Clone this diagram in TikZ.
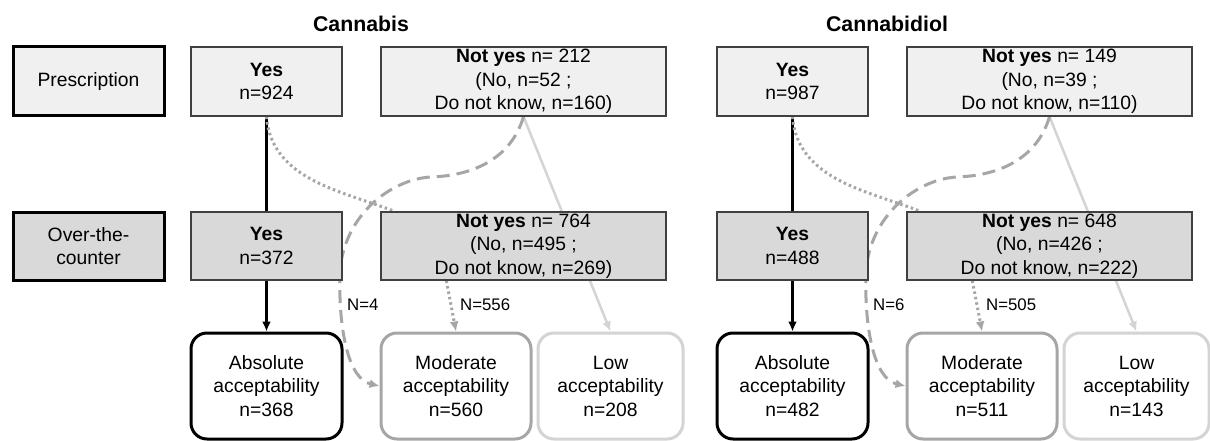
\documentclass[tikz,border=0pt]{standalone}
\usepackage{fontspec}
\setmainfont{Liberation Sans}
\usetikzlibrary{arrows.meta,calc}
\definecolor{boxA}{HTML}{F0F0F0}
\definecolor{boxB}{HTML}{D9D9D9}
\definecolor{edgeC}{HTML}{404040}
\definecolor{midG}{HTML}{A6A6A6}
\definecolor{lightG}{HTML}{D4D4D4}
\pgfdeclarelayer{bg}
\pgfsetlayers{bg,main}
\tikzset{
  base/.style={inner sep=0pt, align=center, text=black, font=\fontsize{19.3}{23.5}\selectfont},
  hdr/.style={base, draw=black, line width=3pt, minimum width=151pt},
  yesbox/.style={base, draw=edgeC, line width=1.3pt, minimum width=151pt},
  nybox/.style={base, draw=edgeC, line width=1.3pt, minimum width=285pt},
  endbox/.style={base, fill=white, line width=3pt, rounded corners=16pt, minimum height=106pt},
  absb/.style={endbox, draw=black, minimum width=151pt},
  modb/.style={endbox, draw=midG, minimum width=150pt},
  lowb/.style={endbox, draw=lightG, minimum width=145pt},
  ttl/.style={inner sep=0pt, font=\fontsize{21.3}{25}\selectfont\bfseries},
  lab/.style={inner sep=0pt, font=\fontsize{16.8}{20}\selectfont},
  blackline/.style={draw=black, line width=2.5pt},
  dotline/.style={draw=midG, line width=3pt, dash pattern=on 2.5pt off 3pt},
  dashline/.style={draw=midG, line width=3pt, dash pattern=on 13pt off 7pt},
  lightline/.style={draw=lightG, line width=2.5pt},
  tip/.style={-{Latex[length=10pt,width=9pt]}}
}
\begin{document}
\begin{tikzpicture}[x=1pt,y=-1pt]
\useasboundingbox (0,0) rectangle (1210,441);

% row labels
\node[hdr, fill=boxA, minimum height=69pt] (presc) at (88.5,81.5) {Prescription};
\node[hdr, fill=boxB, minimum height=68pt] (otc) at (88.5,246) {Over-the-\\counter};

% ---------- Cannabis ----------
\node[ttl] (t1) at (361,24) {Cannabis};
\node[yesbox, fill=boxA, minimum height=69pt] (yP1) at (266.5,81.5) {\textbf{Yes}\\n=924};
\node[nybox, fill=boxA, minimum height=69pt] (nP1) at (523.5,81.5) {\textbf{Not yes} n= 212\\(No, n=52 ;\\Do not know, n=160)};
\node[yesbox, fill=boxB, minimum height=68pt] (yO1) at (266.5,246) {\textbf{Yes}\\n=372};
\node[nybox, fill=boxB, minimum height=68pt] (nO1) at (523.5,246) {\textbf{Not yes} n= 764\\(No, n=495 ;\\Do not know, n=269)};
\node[absb] (a1) at (266.5,386) {Absolute\\acceptability\\n=368};
\node[modb] (m1) at (456,386) {Moderate\\acceptability\\n=560};
\node[lowb] (l1) at (610.5,386) {Low\\acceptability\\n=208};
\node[lab, anchor=west] (lb1) at (347,305) {N=4};
\node[lab, anchor=west] (lc1) at (460,305) {N=556};
\coordinate (w11) at (430,177);
\coordinate (w12) at (340,270);

% ---------- Cannabidiol ----------
\node[ttl] (t2) at (887,24) {Cannabidiol};
\node[yesbox, fill=boxA, minimum height=69pt] (yP2) at (792.5,81.5) {\textbf{Yes}\\n=987};
\node[nybox, fill=boxA, minimum height=69pt] (nP2) at (1049.5,81.5) {\textbf{Not yes} n= 149\\(No, n=39 ;\\Do not know, n=110)};
\node[yesbox, fill=boxB, minimum height=68pt] (yO2) at (792.5,246) {\textbf{Yes}\\n=488};
\node[nybox, fill=boxB, minimum height=68pt] (nO2) at (1049.5,246) {\textbf{Not yes} n= 648\\(No, n=426 ;\\Do not know, n=222)};
\node[absb] (a2) at (792.5,386) {Absolute\\acceptability\\n=482};
\node[modb] (m2) at (982,386) {Moderate\\acceptability\\n=511};
\node[lowb] (l2) at (1136.5,386) {Low\\acceptability\\n=143};
\node[lab, anchor=west] (lb2) at (873,305) {N=6};
\node[lab, anchor=west] (lc2) at (986,305) {N=505};
\coordinate (w21) at (956,177);
\coordinate (w22) at (866,270);

\begin{pgfonlayer}{bg}
\fill[white] (0,0) rectangle (1210,441);
% cannabis connectors
\draw[lightline, tip] (nP1.south) -- (l1.north);
\draw[blackline] (yP1) -- (yO1);
\draw[blackline, tip] (yO1) -- (a1);
\draw[dotline] (yP1.south) .. controls +(5,64) and +(-50,-20) .. ([xshift=14pt]nO1.north west);
\draw[dotline, tip] ([xshift=66pt]nO1.south west) -- (m1.north);
\draw[dashline, tip] (nP1.south) .. controls +(-13,44) and +(40,-1) .. (w11)
   .. controls +(-40,3) and +(5,-55) .. (w12)
   .. controls +(-2,60) and +(-31,-7) .. (m1.west);
% cannabidiol connectors
\draw[lightline, tip] (nP2.south) -- (l2.north);
\draw[blackline] (yP2) -- (yO2);
\draw[blackline, tip] (yO2) -- (a2);
\draw[dotline] (yP2.south) .. controls +(5,64) and +(-50,-20) .. ([xshift=14pt]nO2.north west);
\draw[dotline, tip] ([xshift=66pt]nO2.south west) -- (m2.north);
\draw[dashline, tip] (nP2.south) .. controls +(-13,44) and +(40,-1) .. (w21)
   .. controls +(-40,3) and +(5,-55) .. (w22)
   .. controls +(-2,60) and +(-31,-7) .. (m2.west);
\end{pgfonlayer}
\end{tikzpicture}
\end{document}
